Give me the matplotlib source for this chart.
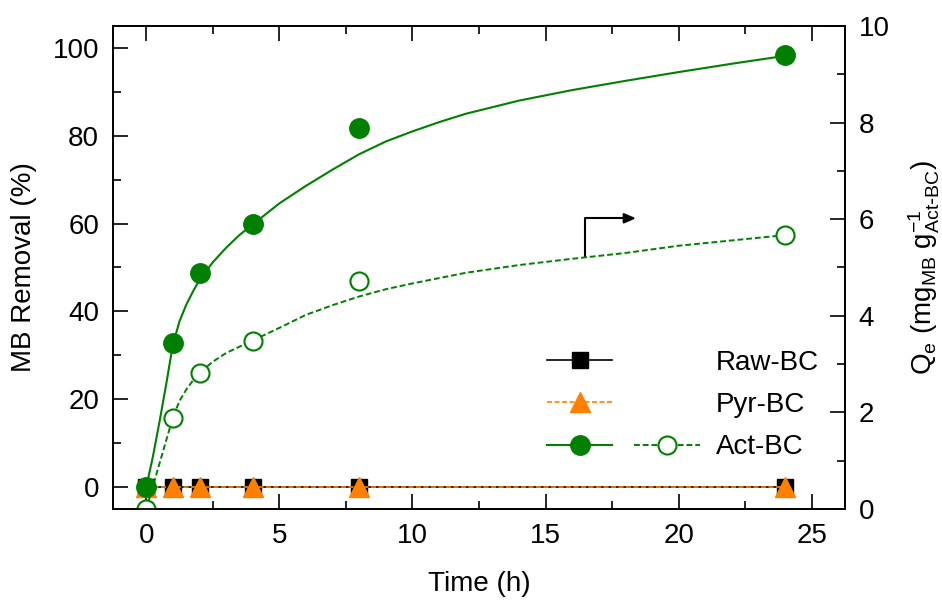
import matplotlib
matplotlib.use("Agg")
import matplotlib.pyplot as plt
from matplotlib.lines import Line2D
from matplotlib.legend_handler import HandlerTuple
from matplotlib.ticker import MultipleLocator

plt.rcParams["font.family"] = ["Liberation Sans", "DejaVu Sans"]
plt.rcParams["mathtext.default"] = "regular"

# measured points
time_h = [0, 1, 2, 4, 8, 24]
raw_removal = [0, 0, 0, 0, 0, 0]
pyr_removal = [0, 0, 0, 0, 0, 0]
act_removal = [0, 32.8, 48.8, 59.8, 81.7, 98.4]
act_qe = [0, 1.89, 2.82, 3.47, 4.73, 5.67]

# fitted curves
fit_t_removal = [0, 0.25, 0.5, 0.75, 1, 1.25, 1.5, 1.75, 2, 2.5, 3, 3.5, 4, 5, 6,
                 7, 8, 9, 10, 11, 12, 14, 16, 18, 20, 22, 24]
fit_removal = [0, 7.0, 15.0, 23.5, 32.5, 37.8, 41.5, 44.5, 47.2, 51.2, 54.5, 57.4,
               59.8, 64.6, 68.6, 72.3, 75.8, 78.7, 81.0, 83.1, 85.0, 88.0, 90.4,
               92.5, 94.5, 96.4, 98.2]
fit_t_qe = [0, 1, 1.25, 1.5, 1.75, 2, 2.5, 3, 3.5, 4, 5, 6, 7, 8, 9, 10, 12, 14,
            16, 18, 20, 22, 24]
fit_qe = [0, 1.90, 2.24, 2.47, 2.66, 2.82, 3.05, 3.23, 3.36, 3.49, 3.75, 4.02,
          4.22, 4.40, 4.55, 4.67, 4.89, 5.05, 5.18, 5.30, 5.45, 5.56, 5.67]

GREEN = "#008000"
ORANGE = "#ff8000"
FS = 20

fig = plt.figure(figsize=(9.42, 6), dpi=100)
ax = fig.add_axes([0.12, 0.1517, 0.777, 0.805])
ax2 = ax.twinx()

ax.plot(time_h, raw_removal, color="black", lw=1.2, marker="s", ms=12, zorder=3)
ax.plot(time_h, pyr_removal, color=ORANGE, lw=1.2, ls=(0, (3, 1.5)), marker="^",
        ms=15, zorder=4)
ax.plot(fit_t_removal, fit_removal, color=GREEN, lw=1.5, zorder=5)
ax.plot(time_h, act_removal, ls="none", marker="o", ms=14, color=GREEN, zorder=6)

ax2.plot(fit_t_qe, fit_qe, color=GREEN, lw=1.4, ls=(0, (3, 1.5)))
ax2.plot(time_h, act_qe, ls="none", marker="o", ms=13, mfc="white", mec=GREEN,
         mew=1.5)

# arrow pointing to the right axis
ax.annotate("", xy=(18.4, 61.2), xytext=(16.5, 52.3),
            arrowprops=dict(arrowstyle="-|>,head_length=0.7,head_width=0.3",
                            connectionstyle="angle,angleA=90,angleB=0,rad=0",
                            color="black", lw=1.5, shrinkA=0, shrinkB=0))

ax.set_xlim(-1.25, 26.25)
ax.set_ylim(-5, 105)
ax2.set_ylim(0, 10)

ax.xaxis.set_major_locator(MultipleLocator(5))
ax.xaxis.set_minor_locator(MultipleLocator(2.5))
ax.yaxis.set_major_locator(MultipleLocator(20))
ax.yaxis.set_minor_locator(MultipleLocator(10))
ax2.yaxis.set_major_locator(MultipleLocator(2))
ax2.yaxis.set_minor_locator(MultipleLocator(1))

ax.tick_params(which="both", direction="in", top=True, right=False, width=1.2,
               labelsize=FS, pad=10)
ax.tick_params(which="major", length=11)
ax.tick_params(which="minor", length=6)
ax2.tick_params(which="both", direction="in", width=1.2, labelsize=FS, pad=10)
ax2.tick_params(which="major", length=11)
ax2.tick_params(which="minor", length=6)
for a in (ax, ax2):
    for s in a.spines.values():
        s.set_linewidth(1.3)

ax.set_xlabel("Time (h)", fontsize=FS, labelpad=16)
ax.set_ylabel("MB Removal (%)", fontsize=FS, labelpad=11)
ax2.set_ylabel(r"Q$_{e}$ (mg$_{MB}$ g$^{-1}_{Act\text{-}BC}$)", fontsize=FS,
               labelpad=12)

# legend
blank = Line2D([], [], ls="none")
h_raw = Line2D([], [], color="black", lw=1.2, marker="s", ms=12)
h_pyr = Line2D([], [], color=ORANGE, lw=1.2, ls=(0, (3, 1.5)), marker="^", ms=15)
h_act = Line2D([], [], color=GREEN, lw=1.5, marker="o", ms=14)
h_act_q = Line2D([], [], color=GREEN, lw=1.4, ls=(0, (3, 1.5)), marker="o", ms=13,
                 mfc="white", mec=GREEN, mew=1.5)
ax2.legend([(h_raw, blank), (h_pyr, blank), (h_act, h_act_q)],
           ["Raw-BC", "Pyr-BC", "Act-BC"],
           handler_map={tuple: HandlerTuple(ndivide=2, pad=0.79)},
           loc="upper left", bbox_to_anchor=(547 / 942, 1 - 350 / 600),
           bbox_transform=fig.transFigure, frameon=False, fontsize=FS,
           handlelength=5.5, handletextpad=0.58, labelspacing=0.58,
           borderpad=0, borderaxespad=0, numpoints=1)

fig.savefig("out.png", dpi=100)
